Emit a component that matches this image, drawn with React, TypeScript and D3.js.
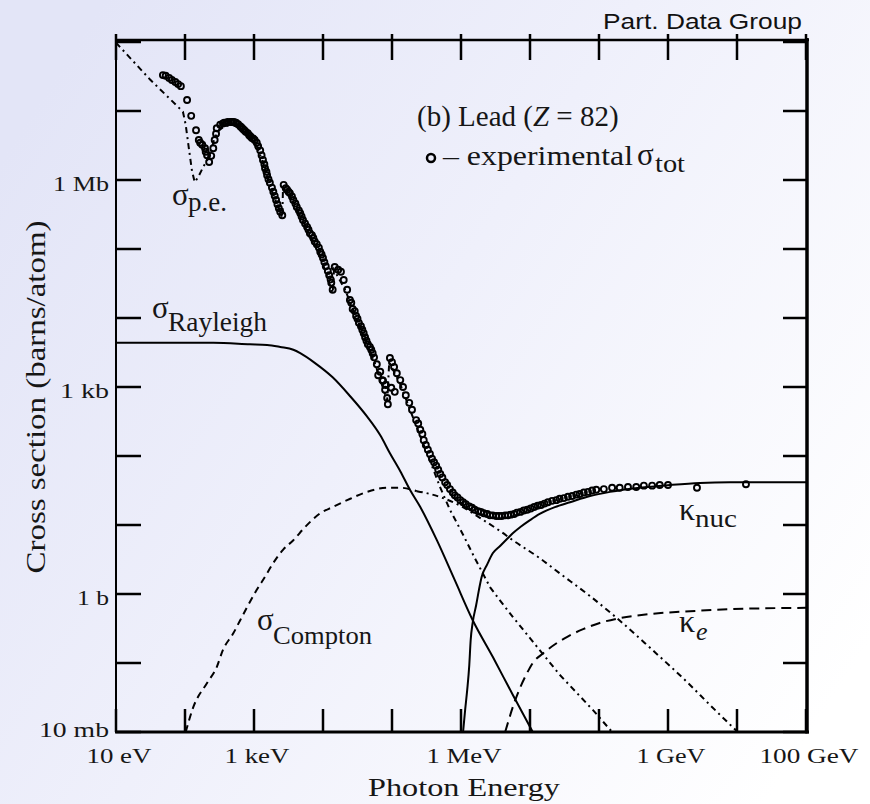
import React from 'react';
import * as d3 from 'd3';

// All values are log10(E / eV) and log10(sigma / barn).
const sigmaTot: [number, number][] = [
  [1.68,7.52],[1.72,7.51],[1.77,7.48],[1.81,7.45],[1.86,7.42],[1.90,7.39],[1.94,7.36],
  [2.03,7.16],[2.09,6.93],[2.16,6.72],[2.20,6.58],[2.22,6.54],[2.25,6.51],[2.29,6.46],[2.30,6.41],[2.32,6.36],[2.35,6.26],
  [2.38,6.35],[2.41,6.46],[2.43,6.58],[2.45,6.67],[2.46,6.75],[2.51,6.80],[2.55,6.82],[2.57,6.83],[2.60,6.83],[2.62,6.84],
  [2.66,6.84],[2.68,6.84],[2.71,6.84],[2.74,6.83],[2.77,6.81],[2.80,6.78],[2.82,6.76],[2.84,6.74],[2.86,6.72],[2.88,6.70],
  [2.91,6.68],[2.93,6.65],[2.95,6.63],[2.97,6.61],[2.99,6.60],[3.01,6.58],[3.04,6.54],[3.06,6.49],[3.09,6.43],[3.11,6.36],
  [3.13,6.29],[3.15,6.23],[3.16,6.17],[3.18,6.12],[3.19,6.07],[3.21,6.01],[3.23,5.96],[3.26,5.89],[3.28,5.83],[3.30,5.77],
  [3.32,5.71],[3.34,5.65],[3.36,5.59],[3.38,5.54],[3.41,5.49],
  [3.43,5.93],[3.46,5.88],[3.48,5.86],[3.50,5.83],[3.52,5.81],[3.55,5.76],[3.57,5.71],[3.60,5.66],[3.62,5.61],[3.65,5.56],
  [3.67,5.52],[3.69,5.47],[3.71,5.42],[3.74,5.37],[3.77,5.32],[3.79,5.28],[3.81,5.23],[3.84,5.20],[3.86,5.16],[3.88,5.11],
  [3.91,5.07],[3.94,5.02],[3.96,4.96],[3.98,4.92],[4.00,4.87],[4.02,4.81],[4.04,4.75],[4.07,4.68],[4.09,4.62],[4.11,4.56],
  [4.12,4.51],[4.14,4.41],
  [4.17,4.74],[4.22,4.70],[4.26,4.67],[4.30,4.55],[4.35,4.41],[4.39,4.26],[4.41,4.22],[4.43,4.13],[4.46,4.10],[4.48,4.03],
  [4.50,3.99],[4.52,3.93],[4.55,3.88],[4.57,3.83],[4.59,3.78],[4.61,3.72],[4.63,3.67],[4.65,3.62],[4.68,3.58],[4.70,3.54],
  [4.72,3.49],[4.74,3.43],[4.78,3.33],[4.80,3.17],[4.83,3.22],[4.86,3.10],[4.87,3.09],[4.90,2.96],[4.91,3.03],[4.93,2.84],
  [4.94,2.75],
  [4.97,3.42],[4.99,2.99],[5.00,3.36],[5.03,3.29],[5.04,2.93],[5.07,3.20],[5.12,3.10],[5.16,3.00],[5.20,2.88],[5.25,2.77],
  [5.29,2.67],[5.35,2.52],[5.38,2.47],[5.41,2.38],[5.44,2.32],[5.46,2.23],[5.49,2.16],[5.52,2.09],[5.55,2.03],[5.58,1.96],
  [5.61,1.91],[5.64,1.86],[5.67,1.80],[5.70,1.74],[5.73,1.69],[5.77,1.62],[5.80,1.58],[5.84,1.52],[5.88,1.47],[5.91,1.43],
  [5.95,1.40],[5.99,1.36],[6.03,1.33],[6.07,1.30],[6.12,1.27],[6.16,1.25],[6.20,1.22],[6.25,1.20],[6.29,1.19],[6.33,1.17],
  [6.38,1.16],[6.42,1.14],[6.46,1.14],[6.51,1.13],[6.55,1.13],[6.59,1.13],[6.64,1.14],[6.68,1.14],[6.72,1.15],[6.77,1.16],
  [6.81,1.18],[6.86,1.19],[6.91,1.21],[6.96,1.22],[7.01,1.24],[7.06,1.26],[7.11,1.28],[7.16,1.29],[7.21,1.31],[7.26,1.33],
  [7.32,1.35],[7.38,1.36],[7.43,1.38],[7.49,1.39],[7.55,1.41],[7.61,1.42],[7.67,1.44],[7.72,1.45],[7.78,1.47],[7.84,1.48],
  [7.90,1.50],[7.96,1.51],[8.07,1.52],[8.19,1.54],[8.30,1.54],[8.42,1.55],[8.54,1.55],[8.65,1.57],[8.77,1.57],[8.88,1.58],
  [9.00,1.58],[9.42,1.54],[10.13,1.59],
];

const sigmaPE: [number, number][] = [
  [1.00,7.99],[1.49,7.46],[1.97,6.99],[2.01,6.80],[2.06,6.43],[2.10,6.14],[2.14,5.97],[2.19,6.04],[2.25,6.16],[2.32,6.29],
  [2.38,6.43],[2.42,6.58],[2.48,6.71],[2.57,6.78],[2.68,6.80],[2.80,6.75],[2.94,6.62],[3.04,6.49],[3.13,6.25],[3.23,5.91],
  [3.33,5.65],[3.41,5.46],[3.42,5.87],[3.52,5.77],[3.67,5.49],[3.81,5.19],[3.96,4.90],[4.14,4.36],[4.16,4.70],[4.32,4.41],
  [4.54,3.86],[4.75,3.35],[4.93,2.80],[4.96,3.36],[5.12,3.04],[5.33,2.49],[5.52,2.01],[5.70,1.54],[5.84,1.22],[6.03,0.86],
  [6.20,0.52],[6.30,0.33],[6.42,0.10],[6.57,-0.10],[6.75,-0.33],[7.00,-0.64],[7.43,-1.17],[7.91,-1.68],[8.19,-2.00],
];

const sigmaRayleigh: [number, number][] = [
  [1.00,3.64],[2.41,3.64],[2.94,3.62],[3.19,3.61],[3.38,3.58],[3.57,3.54],[3.67,3.49],[3.88,3.35],[4.14,3.14],[4.39,2.87],
  [4.64,2.57],[4.83,2.30],[4.97,2.04],[5.12,1.78],[5.26,1.51],[5.41,1.26],[5.65,0.78],[5.91,0.20],[6.17,-0.38],[6.46,-0.91],
  [6.75,-1.46],[7.04,-2.00],
];

const sigmaComptonLow: [number, number][] = [
  [2.01,-2.00],[2.12,-1.64],[2.32,-1.29],[2.46,-1.06],[2.55,-0.81],[2.70,-0.57],[2.80,-0.38],[2.90,-0.19],[3.04,0.06],
  [3.16,0.25],[3.28,0.45],[3.42,0.64],[3.57,0.78],[3.74,0.97],[3.96,1.17],[4.14,1.26],[4.35,1.36],[4.64,1.48],[4.93,1.54],
  [5.12,1.54],[5.36,1.49],
];
const sigmaComptonHigh: [number, number][] = [
  [5.36,1.49],[5.55,1.45],[5.74,1.39],[5.99,1.28],[6.28,1.10],[6.57,0.91],[6.75,0.78],[7.14,0.52],[7.43,0.30],[7.87,-0.03],
  [8.26,-0.35],[8.74,-0.78],[9.28,-1.28],[9.61,-1.61],[10.01,-2.00],
];

const kappaNuc: [number, number][] = [
  [6.03,-2.00],[6.06,-1.68],[6.09,-1.39],[6.12,-1.03],[6.14,-0.67],[6.17,-0.41],[6.22,-0.16],[6.26,0.06],[6.30,0.25],
  [6.38,0.43],[6.46,0.59],[6.57,0.70],[6.67,0.80],[6.75,0.88],[6.86,0.97],[7.00,1.07],[7.14,1.16],[7.36,1.26],[7.58,1.33],
  [7.87,1.42],[8.16,1.48],[8.59,1.54],[9.03,1.58],[9.46,1.61],[9.90,1.62],[11.00,1.62],
];

const kappaE: [number, number][] = [
  [6.64,-2.00],[6.70,-1.80],[6.75,-1.64],[6.86,-1.35],[6.96,-1.14],[7.04,-1.00],[7.19,-0.86],[7.39,-0.71],[7.54,-0.62],
  [7.77,-0.51],[8.01,-0.42],[8.30,-0.35],[8.74,-0.29],[9.32,-0.25],[9.90,-0.22],[11.00,-0.20],
];

const xTickValues = [1e1, 1e2, 1e3, 1e4, 1e5, 1e6, 1e7, 1e8, 1e9, 1e10, 1e11];
const yTickValues = [1e-2, 1e-1, 1e0, 1e1, 1e2, 1e3, 1e4, 1e5, 1e6, 1e7, 1e8];
const xTickLabels = ['10 eV', '1 keV', '1 MeV', '1 GeV', '100 GeV'];
const xTickLabelValues = [1e1, 1e3, 1e6, 1e9, 1e11];
const yTickLabels = ['10 mb', '1 b', '1 kb', '1 Mb'];
const yTickLabelValues = [1e-2, 1e0, 1e3, 1e6];

const SERIF = '"Liberation Serif", "Times New Roman", serif';
const SANS = '"Liberation Sans", Arial, sans-serif';
const INK = '#161616';

export default function App() {
  const x = d3.scaleLog().domain([10, 1e11]).range([116, 806]);
  const y = d3.scaleLog().domain([1e-2, 1e8]).range([732, 42]);
  const px = (p: [number, number]) => x(Math.pow(10, p[0]));
  const py = (p: [number, number]) => y(Math.pow(10, p[1]));
  const straight = d3.line<[number, number]>().x(px).y(py);
  const smooth = d3.line<[number, number]>().x(px).y(py).curve(d3.curveMonotoneX);

  const xLabelW: Record<string, number> = { '10 eV': 65, '1 keV': 65, '1 MeV': 75, '1 GeV': 69, '100 GeV': 99 };
  const yLabelW: Record<string, number> = { '10 mb': 70, '1 b': 32, '1 kb': 49, '1 Mb': 56 };

  const L = 116, R = 807, T = 40, B = 732;

  return (
    <svg width={870} height={804} style={{ position: 'absolute', left: 0, top: 0, display: 'block' }}>
      <defs>
        <linearGradient id="bg" x1="0" y1="0.2" x2="1" y2="0.8">
          <stop offset="0" stopColor="#e3e5f7" />
          <stop offset="0.45" stopColor="#eff0fb" />
          <stop offset="1" stopColor="#ffffff" />
        </linearGradient>
        <clipPath id="plot">
          <rect x={L} y={T} width={R - L} height={B - T} />
        </clipPath>
      </defs>
      <rect x={0} y={0} width={870} height={804} fill="url(#bg)" />

      <g clipPath="url(#plot)" fill="none" stroke="#000" strokeWidth={2}>
        <path d={smooth(sigmaRayleigh) || ''} />
        <path d={smooth(kappaNuc) || ''} />
        <path d={smooth(kappaE) || ''} strokeDasharray="10,6" />
        <path d={smooth(sigmaComptonLow) || ''} strokeDasharray="7,5" />
        <path d={smooth(sigmaComptonHigh) || ''} strokeDasharray="6,4,2,4" />
        <path d={straight(sigmaPE) || ''} strokeDasharray="6,4,2,4" />
        {sigmaTot.map((p, i) => (
          <circle key={i} cx={px(p)} cy={py(p)} r={3} strokeWidth={1.9} />
        ))}
      </g>

      {/* frame */}
      <g stroke="#000" fill="none">
        <line x1={L} y1={T} x2={L} y2={B + 1} strokeWidth={2} />
        <line x1={L} y1={T} x2={R + 2} y2={T} strokeWidth={2.5} />
        <line x1={R} y1={T - 2} x2={R} y2={B + 1.5} strokeWidth={3.5} />
        <line x1={L - 1} y1={B} x2={R + 2} y2={B} strokeWidth={3} />
        {xTickValues.map((v, i) => (
          <g key={'xt' + i}>
            <line x1={x(v)} x2={x(v)} y1={B} y2={B - 23} strokeWidth={2.5} />
            <line x1={x(v)} x2={x(v)} y1={T - 6} y2={T + 20} strokeWidth={2.5} />
          </g>
        ))}
        {yTickValues.map((v, i) => (
          <g key={'yt' + i}>
            <line x1={L} x2={L + 25} y1={y(v)} y2={y(v)} strokeWidth={2.5} />
            <line x1={R} x2={R - 24} y1={y(v)} y2={y(v)} strokeWidth={2.5} />
          </g>
        ))}
      </g>

      {/* tick labels */}
      <g fontFamily={SERIF} fontSize={20} fill={INK}>
        {xTickLabels.map((t, i) => (
          <text key={t} x={x(xTickLabelValues[i]) + 3} y={763} textAnchor="middle"
            textLength={xLabelW[t]} lengthAdjust="spacingAndGlyphs">{t}</text>
        ))}
        {yTickLabels.map((t, i) => (
          <text key={t} x={109} y={Math.min(y(yTickLabelValues[i]) + 11, 737)} textAnchor="end"
            textLength={yLabelW[t]} lengthAdjust="spacingAndGlyphs">{t}</text>
        ))}
      </g>

      {/* axis titles */}
      <text x={464} y={796} textAnchor="middle" fontFamily={SERIF} fontSize={26} fill={INK}
        textLength={192} lengthAdjust="spacingAndGlyphs">Photon Energy</text>
      <text transform="translate(45,397) rotate(-90)" textAnchor="middle" fontFamily={SERIF} fontSize={28} fill={INK}
        textLength={353} lengthAdjust="spacingAndGlyphs">Cross section  (barns/atom)</text>

      <text x={603} y={29} fontFamily={SANS} fontSize={22} fill="#111"
        textLength={199} lengthAdjust="spacingAndGlyphs">Part. Data Group</text>

      {/* legend */}
      <g fontFamily={SERIF} fill={INK}>
        <text x={417} y={126} fontSize={29}>(b) Lead (<tspan fontStyle="italic">Z</tspan> = 82)</text>
        <circle cx={431} cy={158} r={4} fill="none" stroke="#000" strokeWidth={2.5} />
        <text x={443} y={165} fontSize={28} textLength={190} lengthAdjust="spacingAndGlyphs">– experimental</text>
        <text x={637} y={165} fontSize={31}>σ</text>
        <text x={655} y={172} fontSize={26} textLength={30} lengthAdjust="spacingAndGlyphs">tot</text>
      </g>

      {/* curve labels */}
      <g fontFamily={SERIF} fill={INK}>
        <text x={172} y={205} fontSize={31}>σ</text>
        <text x={188} y={211} fontSize={27} textLength={39} lengthAdjust="spacingAndGlyphs">p.e.</text>

        <text x={152} y={318} fontSize={31}>σ</text>
        <text x={168} y={331} fontSize={27} textLength={99} lengthAdjust="spacingAndGlyphs">Rayleigh</text>

        <text x={257} y={630} fontSize={31}>σ</text>
        <text x={273} y={644} fontSize={26} textLength={99} lengthAdjust="spacingAndGlyphs">Compton</text>

        <text x={679} y={520} fontSize={32}>κ</text>
        <text x={695} y={527} fontSize={26} textLength={42} lengthAdjust="spacingAndGlyphs">nuc</text>

        <text x={679} y={632} fontSize={32}>κ</text>
        <text x={696} y={640} fontSize={26} fontStyle="italic">e</text>
      </g>
    </svg>
  );
}
